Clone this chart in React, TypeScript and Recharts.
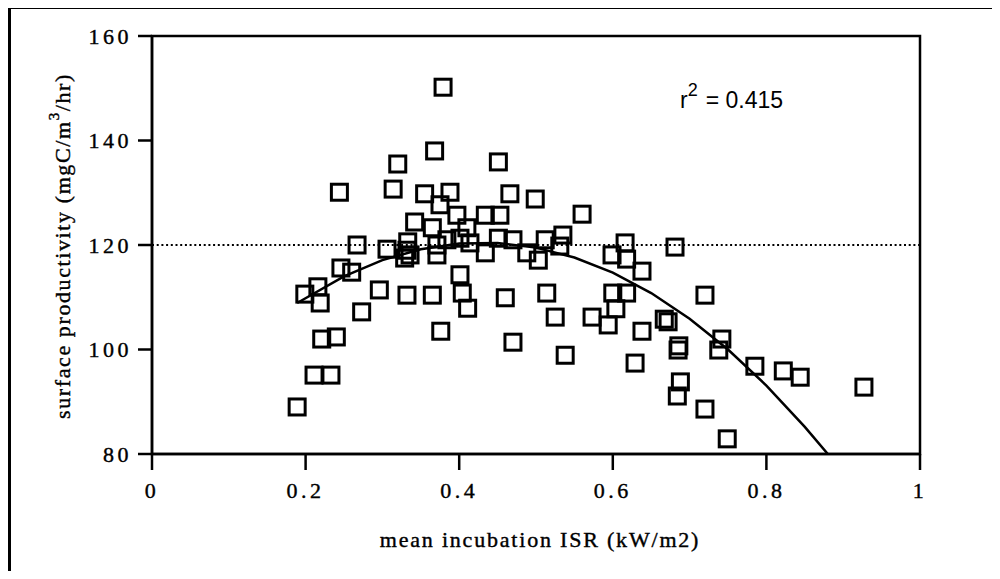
import React from 'react';
import { ScatterChart, Scatter, XAxis, YAxis, ReferenceLine, ReferenceArea } from 'recharts';

const xTicks = [0, 0.2, 0.4, 0.6, 0.8, 1];
const xTickLabels = ['0', '0.2', '0.4', '0.6', '0.8', '1'];
const yTicks = [80, 100, 120, 140, 160];

const xTitle = 'mean incubation ISR (kW/m2)';
const rSquared = '0.415';

// observed points: mean incubation ISR (kW/m2)
const isr = [
  0.189, 0.211, 0.233, 0.221, 0.240, 0.219, 0.199, 0.216, 0.246, 0.260,
  0.267, 0.244, 0.273, 0.296, 0.306, 0.314, 0.320, 0.332, 0.329, 0.332,
  0.342, 0.333, 0.336, 0.355, 0.365, 0.365, 0.368, 0.371, 0.371, 0.375,
  0.379, 0.376, 0.388, 0.397, 0.401, 0.401, 0.404, 0.411, 0.410, 0.414,
  0.434, 0.434, 0.451, 0.453, 0.451, 0.460, 0.466, 0.470, 0.470, 0.488,
  0.499, 0.503, 0.512, 0.514, 0.525, 0.535, 0.538, 0.560, 0.573, 0.594,
  0.599, 0.604, 0.600, 0.616, 0.618, 0.618, 0.638, 0.638, 0.629, 0.667,
  0.672, 0.681, 0.686, 0.685, 0.688, 0.684, 0.720, 0.720, 0.742, 0.738,
  0.749, 0.785, 0.822, 0.844, 0.927, 0.531, 0.384,
];
// observed points: surface productivity (mgC/m3/hr)
const productivity = [
  89.0, 95.1, 95.1, 102.0, 102.4, 108.9, 110.6, 112.0, 115.6, 114.8,
  120.0, 130.1, 107.2, 111.4, 119.2, 130.7, 135.5, 119.0, 117.5, 110.4,
  124.4, 120.6, 118.1, 129.8, 123.3, 110.4, 138.0, 120.0, 118.1, 127.7,
  150.2, 103.5, 130.1, 125.7, 121.3, 114.3, 110.8, 107.9, 123.3, 120.4,
  125.7, 118.5, 135.9, 125.7, 121.3, 109.9, 129.8, 121.0, 101.4, 118.5,
  128.8, 117.1, 121.0, 110.8, 106.2, 121.9, 98.9, 125.9, 106.2, 104.7,
  118.1, 107.8, 110.8, 120.4, 117.3, 110.8, 115.0, 103.5, 97.4, 105.8,
  105.3, 119.6, 100.7, 99.9, 93.8, 91.1, 110.4, 88.6, 102.0, 99.9,
  82.9, 96.8, 95.9, 94.7, 92.8, 119.8, 121.0,
];

// fitted curve
const fitIsr = [0.189, 0.25, 0.3, 0.35, 0.4, 0.45, 0.5, 0.55, 0.6, 0.65, 0.7, 0.75, 0.8, 0.85, 0.88];
const fitProductivity = [108.9, 114.0, 117.1, 119.2, 120.3, 120.4, 119.5, 117.6, 114.7, 110.8, 105.9, 100.0, 93.1, 85.2, 80.0];

const W = 984;
const H = 563;
const serif = '"Liberation Serif", "Times New Roman", serif';
const sans = '"Liberation Sans", Arial, sans-serif';

const Square = (props: any) => {
  const { cx, cy } = props;
  if (cx == null || cy == null) return <g />;
  return <rect x={cx - 8} y={cy - 8} width={16} height={16} fill="none" stroke="#000" strokeWidth={3} />;
};

export default function App() {
  const points = isr.map((x, i) => ({ x, y: productivity[i] }));
  const fit = fitIsr.map((x, i) => ({ x, y: fitProductivity[i] }));
  const tickStyle = {
    fill: '#000',
    fontSize: 22,
    fontFamily: serif,
    letterSpacing: 3.5,
    stroke: '#000',
    strokeWidth: 0.4,
  };
  return (
    <div style={{ position: 'relative', width: W, height: H }}>
      <div
        style={{
          position: 'absolute',
          left: 0,
          top: -2,
          width: 984,
          height: 565,
          borderLeft: '3px solid #000',
          borderTop: '3px solid #000',
          boxSizing: 'border-box',
        }}
      />
      <ScatterChart width={W} height={H} margin={{ top: 28, right: 72, bottom: 77, left: 84 }}>
        <XAxis
          type="number"
          dataKey="x"
          domain={[0, 1]}
          ticks={xTicks}
          tickFormatter={(v: number) => xTickLabels[xTicks.indexOf(v)]}
          height={40}
          tickSize={16}
          tickMargin={12}
          tick={tickStyle}
          axisLine={{ stroke: '#000', strokeWidth: 2.5 }}
          tickLine={{ stroke: '#000', strokeWidth: 2.5 }}
          allowDataOverflow
        />
        <YAxis
          type="number"
          dataKey="y"
          domain={[80, 160]}
          ticks={yTicks}
          width={60}
          tickSize={14}
          tickMargin={6}
          tick={tickStyle}
          axisLine={{ stroke: '#000', strokeWidth: 2.5 }}
          tickLine={{ stroke: '#000', strokeWidth: 2.5 }}
          allowDataOverflow
        />
        <ReferenceArea x1={0} x2={1} y1={80} y2={160} fill="none" fillOpacity={0} stroke="#000" strokeWidth={2.5} />
        <ReferenceLine y={120} stroke="#000" strokeDasharray="2 2.7" strokeWidth={2.2} />
        <Scatter
          data={fit}
          line={{ stroke: '#000', strokeWidth: 2.5 }}
          shape={() => <g />}
          isAnimationActive={false}
        />
        <Scatter data={points} shape={Square} isAnimationActive={false} />
      </ScatterChart>
      <svg
        width={W}
        height={H}
        style={{ position: 'absolute', left: 0, top: 0, pointerEvents: 'none' }}
      >
        <text
          transform="translate(54,238) rotate(-90)"
          textAnchor="middle"
          dominantBaseline="central"
          fontFamily={serif}
          fontSize={22}
          letterSpacing={1.6}
          fill="#000"
          stroke="#000"
          strokeWidth={0.4}
        >
          surface productivity (mgC/m
          <tspan dy={-8} fontSize={15}>3</tspan>
          <tspan dy={8}>/hr)</tspan>
        </text>
        <text
          x={532}
          y={539}
          textAnchor="middle"
          fontFamily={serif}
          fontSize={22}
          letterSpacing={1.8}
          fill="#000"
          stroke="#000"
          strokeWidth={0.4}
        >
          {xTitle}
        </text>
        <text x={672} y={100} fontFamily={sans} fontSize={23} fill="#000">
          r
          <tspan dy={-12} fontSize={18}>2</tspan>
          <tspan dy={12} dx={8}>= {rSquared}</tspan>
        </text>
      </svg>
    </div>
  );
}
